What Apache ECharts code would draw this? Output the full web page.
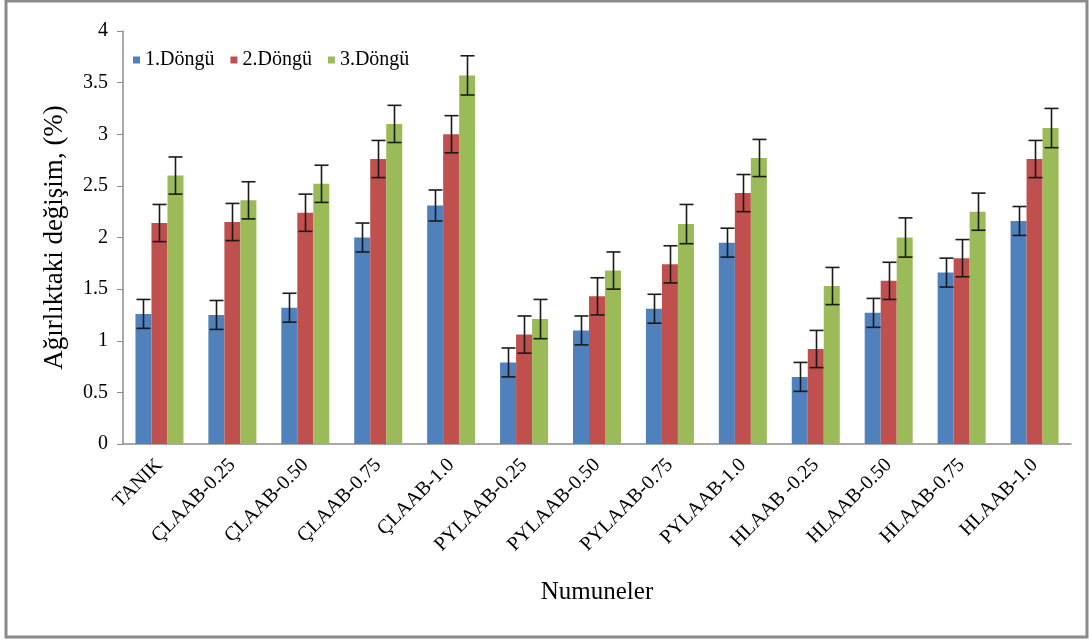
<!DOCTYPE html>
<html>
<head>
<meta charset="utf-8">
<script src="https://cdn.jsdelivr.net/npm/echarts@6/dist/echarts.min.js"></script>
<style>
html,body{margin:0;padding:0;background:#fff;}
#chart{width:1089px;height:640px;}
</style>
</head>
<body>
<div id="chart"></div>
<script>
const categories = ['TANIK','ÇLAAB-0.25','ÇLAAB-0.50','ÇLAAB-0.75','ÇLAAB-1.0','PYLAAB-0.25','PYLAAB-0.50','PYLAAB-0.75','PYLAAB-1.0','HLAAB -0.25','HLAAB-0.50','HLAAB-0.75','HLAAB-1.0'];
const seriesNames = ['1.Döngü','2.Döngü','3.Döngü'];
const cycle1 = [1.26,1.25,1.32,2.00,2.31,0.79,1.10,1.31,1.95,0.65,1.27,1.66,2.16];
const cycle2 = [2.14,2.15,2.24,2.76,3.00,1.06,1.43,1.74,2.43,0.92,1.58,1.80,2.76];
const cycle3 = [2.60,2.36,2.52,3.10,3.57,1.21,1.68,2.13,2.77,1.53,2.00,2.25,3.06];
const err1 = [0.14,0.14,0.14,0.14,0.15,0.14,0.14,0.14,0.14,0.14,0.14,0.14,0.14];
const err2 = [0.18,0.18,0.18,0.18,0.18,0.18,0.18,0.18,0.18,0.18,0.18,0.18,0.18];
const err3 = [0.18,0.18,0.18,0.18,0.19,0.19,0.18,0.19,0.18,0.18,0.19,0.18,0.19];
const yTicks = [0,0.5,1,1.5,2,2.5,3,3.5,4];

const colors = ['#4F81BD','#C0504D','#9BBB59'];
const values = [cycle1, cycle2, cycle3];
const errs = [err1, err2, err3];
const BAR_W = 16;
const serif = '"Liberation Serif", "DejaVu Serif", serif';

const chart = echarts.init(document.getElementById('chart'));

const series = [];
values.forEach((vals, s) => {
  series.push({
    name: seriesNames[s],
    type: 'bar',
    data: vals,
    barWidth: BAR_W,
    barGap: '0%',
    itemStyle: { color: colors[s] },
    z: 2
  });
});
values.forEach((vals, s) => {
  series.push({
    type: 'custom',
    name: 'err' + s,
    z: 5,
    silent: true,
    data: vals.map((v, i) => [i, v - errs[s][i], v + errs[s][i]]),
    encode: { x: 0, y: [1, 2] },
    renderItem: function (params, api) {
      const i = api.value(0);
      const lo = api.coord([i, api.value(1)]);
      const hi = api.coord([i, api.value(2)]);
      const x = Math.round(lo[0] + (s - 1) * BAR_W) + 0.5;
      const cap = 7;
      const style = { stroke: '#1a1a1a', lineWidth: 1.6 };
      return {
        type: 'group',
        children: [
          { type: 'line', shape: { x1: x, y1: hi[1], x2: x, y2: lo[1] }, style },
          { type: 'line', shape: { x1: x - cap, y1: hi[1], x2: x + cap, y2: hi[1] }, style },
          { type: 'line', shape: { x1: x - cap, y1: lo[1], x2: x + cap, y2: lo[1] }, style }
        ]
      };
    }
  });
});

chart.setOption({
  animation: false,
  backgroundColor: '#fff',
  textStyle: { fontFamily: serif },
  graphic: [{
    type: 'rect',
    shape: { x: 6, y: 1, width: 1081, height: 636 },
    style: { fill: 'none', stroke: '#8a8a8a', lineWidth: 3 },
    silent: true
  }],
  legend: {
    data: seriesNames,
    left: 128,
    top: 45,
    icon: 'rect',
    itemWidth: 7,
    itemHeight: 7,
    itemGap: 16,
    textStyle: { fontFamily: serif, fontSize: 20, color: '#000' }
  },
  grid: { left: 123, right: 18, top: 31, bottom: 196 },
  xAxis: {
    type: 'category',
    data: categories,
    name: 'Numuneler',
    nameLocation: 'middle',
    nameGap: 136,
    nameTextStyle: { fontFamily: serif, fontSize: 25, color: '#000' },
    axisLine: { lineStyle: { color: '#8c8c8c', width: 1.5 } },
    axisTick: { length: 6, lineStyle: { color: '#8c8c8c' } },
    axisLabel: { rotate: 45, fontFamily: serif, fontSize: 20, color: '#000', margin: 18, interval: 0 }
  },
  yAxis: {
    type: 'value',
    min: yTicks[0],
    max: yTicks[yTicks.length - 1],
    interval: 0.5,
    name: 'Ağırlıktaki değişim, (%)',
    nameLocation: 'middle',
    nameGap: 55,
    nameTextStyle: { fontFamily: serif, fontSize: 27, color: '#000' },
    axisLine: { show: true, lineStyle: { color: '#8c8c8c', width: 1.5 } },
    axisTick: { show: true, length: 6, lineStyle: { color: '#8c8c8c' } },
    splitLine: { show: false },
    axisLabel: { fontFamily: serif, fontSize: 20, color: '#000', margin: 15 }
  },
  series
});
</script>
</body>
</html>
